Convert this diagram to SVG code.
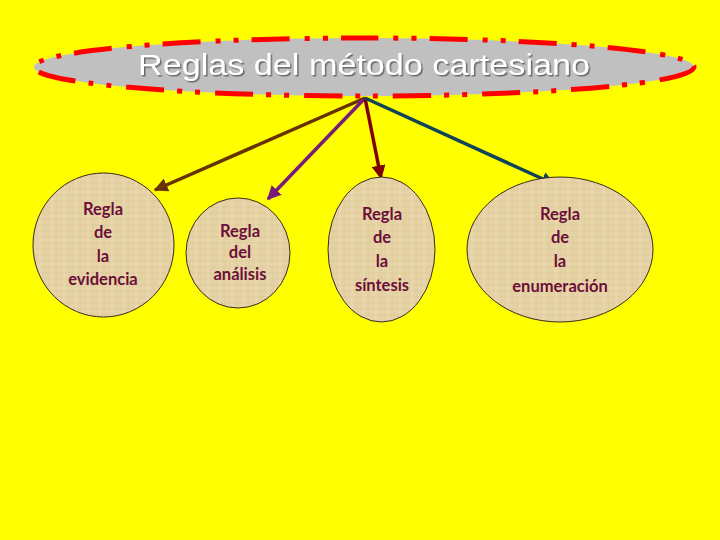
<svg xmlns="http://www.w3.org/2000/svg" width="720" height="540" viewBox="0 0 720 540">
<style>
.node{stroke:#3a2a1a;stroke-width:1;fill:url(#papyrus)}
.lbl{font-family:Lato,"Open Sans","Liberation Sans",sans-serif;font-weight:700;font-size:16.5px;fill:#6B0F3A;text-anchor:middle}
.conn{stroke-width:3.5;fill:none}
.title{font-family:"Liberation Sans",Arial,sans-serif;font-size:30px;text-anchor:middle;fill:#FFFFFF;filter:url(#shadow)}
</style>
<defs>
<filter id="shadow" x="-5%" y="-20%" width="110%" height="140%">
<feDropShadow dx="1.5" dy="1.5" stdDeviation="0.6" flood-color="#6a6a6a" flood-opacity="1"/>
</filter>
<pattern id="papyrus" patternUnits="userSpaceOnUse" width="12" height="12">
<rect width="12" height="12" fill="#E6D3A5"/>
<path d="M0 3H12M0 9H12" stroke="#D9C390" stroke-width="1" opacity="0.6"/>
<path d="M4 0V12" stroke="#EFE0BC" stroke-width="1" opacity="0.7"/>
<path d="M9 0V12" stroke="#D8C28F" stroke-width="0.8" opacity="0.5"/>
</pattern>
<marker id="ah-brown" viewBox="0 0 10 10" refX="9" refY="5" markerWidth="4" markerHeight="4" orient="auto" markerUnits="strokeWidth"><path d="M0 0L10 5L0 10z" fill="#663300"/></marker>
<marker id="ah-purple" viewBox="0 0 10 10" refX="9" refY="5" markerWidth="4" markerHeight="4" orient="auto" markerUnits="strokeWidth"><path d="M0 0L10 5L0 10z" fill="#7A1A7A"/></marker>
<marker id="ah-red" viewBox="0 0 10 10" refX="9" refY="5" markerWidth="4" markerHeight="4" orient="auto" markerUnits="strokeWidth"><path d="M0 0L10 5L0 10z" fill="#800000"/></marker>
<marker id="ah-navy" viewBox="0 0 10 10" refX="9" refY="5" markerWidth="4" markerHeight="4" orient="auto" markerUnits="strokeWidth"><path d="M0 0L10 5L0 10z" fill="#0F4458"/></marker>
</defs>
<rect width="720" height="540" fill="#FFFF00"/>

<g id="title">
<ellipse cx="364" cy="67" rx="330" ry="29" fill="#C0C0C0" stroke="#FF0000" stroke-width="5" stroke-dasharray="38 15 5 13 5 13"/>
<text class="title" x="364" y="75" textLength="452" lengthAdjust="spacingAndGlyphs">Reglas del método cartesiano</text>
</g>

<g id="connectors">
<line class="conn" x1="365" y1="98" x2="155" y2="190" stroke="#663300" marker-end="url(#ah-brown)"/>
<line class="conn" x1="365" y1="98" x2="268" y2="199" stroke="#7A1A7A" marker-end="url(#ah-purple)"/>
<line class="conn" x1="365" y1="98" x2="381" y2="178" stroke="#800000" marker-end="url(#ah-red)"/>
<line class="conn" x1="365" y1="98" x2="554" y2="184" stroke="#0F4458" marker-end="url(#ah-navy)"/>
</g>

<g id="evidencia">
<ellipse class="node" cx="103.5" cy="245" rx="70.5" ry="72"/>
<text class="lbl" x="103" y="215">Regla</text>
<text class="lbl" x="103" y="238">de</text>
<text class="lbl" x="103" y="262">la</text>
<text class="lbl" x="103" y="285">evidencia</text>
</g>

<g id="analisis">
<ellipse class="node" cx="238" cy="253" rx="52" ry="55"/>
<text class="lbl" x="240" y="237">Regla</text>
<text class="lbl" x="240" y="258">del</text>
<text class="lbl" x="240" y="280">análisis</text>
</g>

<g id="sintesis">
<ellipse class="node" cx="381.5" cy="249.5" rx="53.5" ry="72.5"/>
<text class="lbl" x="382" y="220">Regla</text>
<text class="lbl" x="382" y="243">de</text>
<text class="lbl" x="382" y="267">la</text>
<text class="lbl" x="382" y="291">síntesis</text>
</g>

<g id="enumeracion">
<ellipse class="node" cx="560" cy="249.5" rx="93" ry="72.5"/>
<text class="lbl" x="560" y="220">Regla</text>
<text class="lbl" x="560" y="243">de</text>
<text class="lbl" x="560" y="267">la</text>
<text class="lbl" x="560" y="292">enumeración</text>
</g>
</svg>
